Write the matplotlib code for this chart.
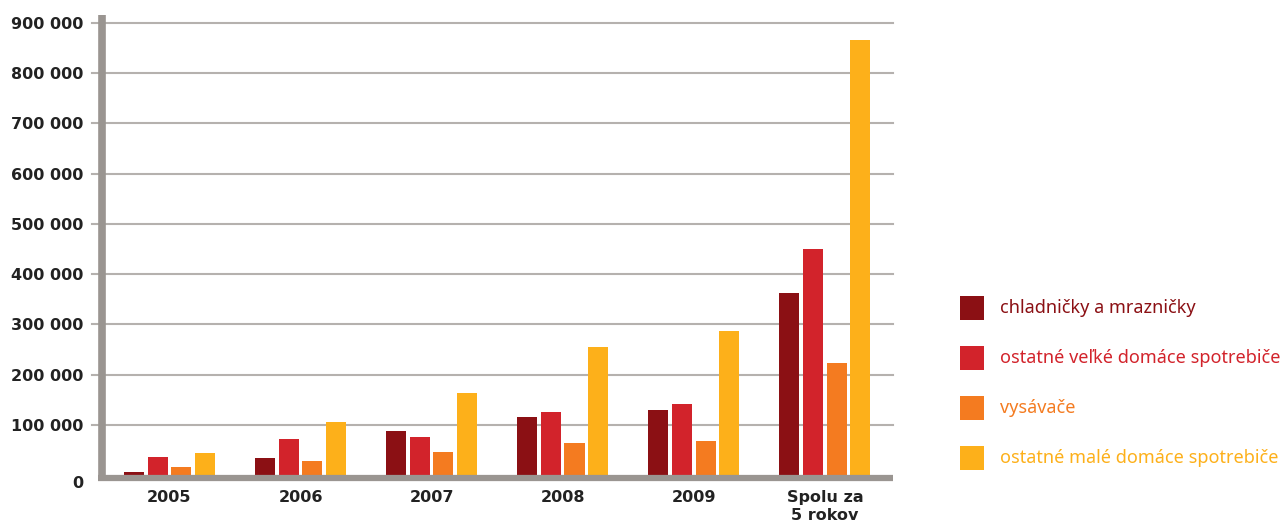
import matplotlib.pyplot as plt
import numpy as np
from matplotlib.patches import Rectangle
from matplotlib.transforms import ScaledTranslation

# hodnoty odčítané z grafu
roky = ['2005', '2006', '2007', '2008', '2009', 'Spolu za\n5 rokov']
chladnicky = [6000, 34000, 87000, 115000, 129000, 363000]
velke = [36000, 71000, 75000, 125000, 141000, 451000]
vysavace = [16000, 28000, 46000, 63000, 67000, 223000]
male = [44000, 105000, 163000, 255000, 287000, 867000]

nazvy = ['chladničky a mrazničky', 'ostatné veľké domáce spotrebiče',
         'vysávače', 'ostatné malé domáce spotrebiče']
farby = ['#8B1014', '#D2232B', '#F47B20', '#FDB01A']
yticky = [0, 100000, 200000, 300000, 400000, 500000, 600000, 700000, 800000, 900000]

plt.rcParams['font.family'] = ['Noto Sans', 'DejaVu Sans']

W, H = 1286, 532
fig = plt.figure(figsize=(W / 100, H / 100), dpi=100)
ax = fig.add_axes([100 / W, 1 - 475 / H, 793 / W, 460 / H])

x = np.arange(len(roky))
sirka = 0.153
krok = 0.18
for i, (serie, farba) in enumerate(zip([chladnicky, velke, vysavace, male], farby)):
    ax.bar(x + (i - 1.5) * krok, serie, width=sirka, color=farba, zorder=3)

ax.set_xlim(-0.53, 5.52)
ax.set_ylim(0, 916000)

# mriežka
for h in yticky[1:]:
    ax.plot([-0.01, 1], [h, h], transform=ax.get_yaxis_transform(),
            color='#B5B1AE', lw=1.5, clip_on=False, zorder=1)

for s in ax.spines.values():
    s.set_visible(False)

# osi
siva = '#9A9591'
ax.plot([-0.003, 1], [-0.0075, -0.0075], transform=ax.transAxes, color=siva,
        lw=4.5, clip_on=False, solid_capstyle='butt', zorder=4)
ax.plot([0.0025, 0.0025], [-0.0135, 1], transform=ax.transAxes, color=siva,
        lw=5.5, clip_on=False, solid_capstyle='butt', zorder=4)

ax.set_yticks(yticky)
ax.set_yticklabels([f'{v:,}'.replace(',', ' ') for v in yticky],
                   fontsize=11.5, fontweight='bold', color='#222222', family='DejaVu Sans')
ax.set_xticks(x)
ax.set_xticklabels(roky, fontsize=11.5, fontweight='bold', color='#222222',
                   linespacing=1.2, family='DejaVu Sans')
ax.tick_params(axis='y', length=0, pad=12)
ax.tick_params(axis='x', length=0, pad=11)

# nula je trochu nižšie
nula = ax.yaxis.get_major_ticks()[0].label1
nula.set_transform(nula.get_transform() + ScaledTranslation(0, -5 / 72, fig.dpi_scale_trans))

# legenda
for i, (nazov, farba) in enumerate(zip(nazvy, farby)):
    yc = 308 + i * 50
    fig.patches.append(Rectangle((960 / W, 1 - (yc + 12) / H), 24 / W, 24 / H,
                                 transform=fig.transFigure, facecolor=farba,
                                 edgecolor='none'))
    fig.text(1000 / W, 1 - yc / H, nazov, color=farba, fontsize=13, va='center',
             ha='left')

fig.savefig('out.png', dpi=100)
